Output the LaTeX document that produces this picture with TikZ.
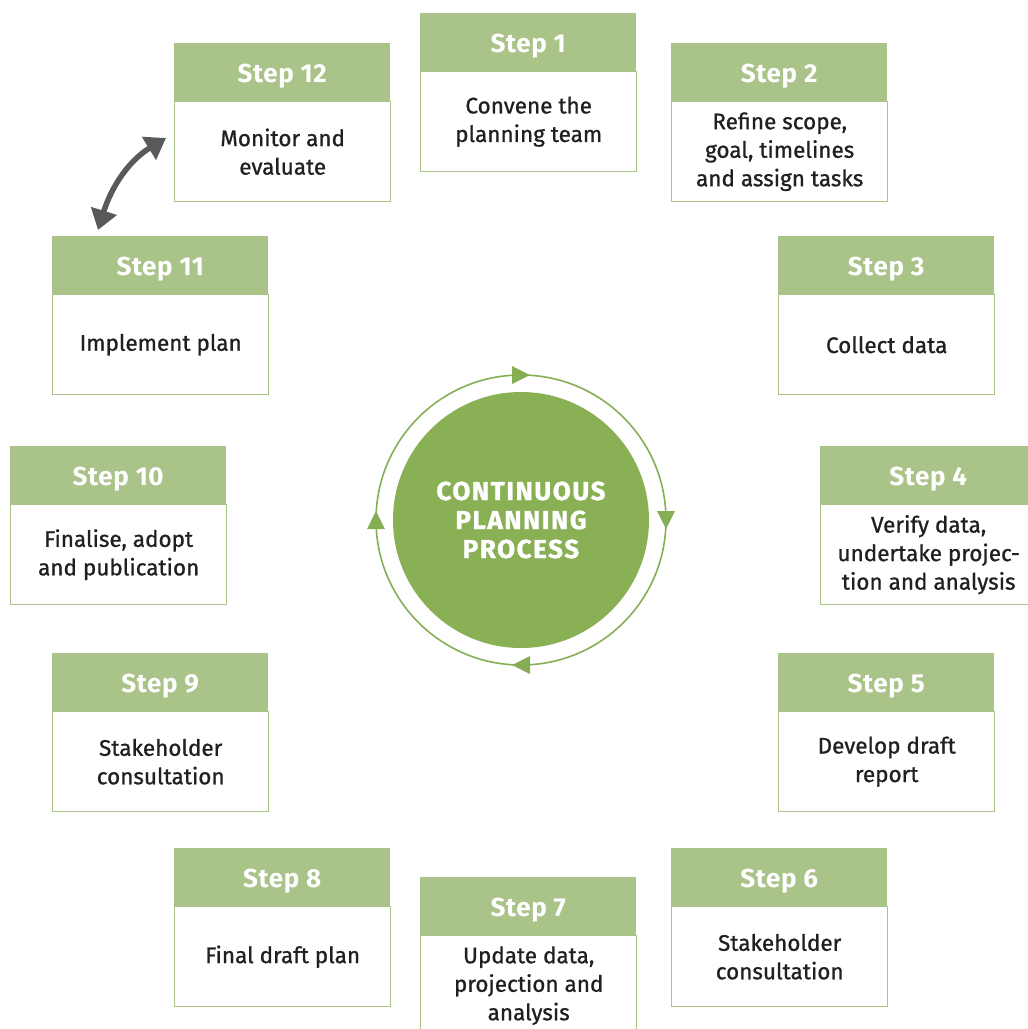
\documentclass[tikz,border=0pt]{standalone}
\usepackage{fontspec}
\setmainfont{Fira Sans}
\newfontfamily\cardfont{Fira Sans}[FakeBold=0.9]
\newfontfamily\headfont{Fira Sans}[LetterSpace=2.5]
\newfontfamily\corefont{Fira Sans}[LetterSpace=6.0, FakeBold=1.2]
\usetikzlibrary{arrows.meta}
\definecolor{headgreen}{HTML}{A9C388}
\definecolor{edgegreen}{HTML}{A9C388}
\definecolor{coregreen}{HTML}{8AB056}
\definecolor{ringgreen}{HTML}{86AE55}
\definecolor{bodytext}{HTML}{231F20}
\definecolor{arrowgrey}{HTML}{58595B}
\tikzset{
  headbox/.style={fill=headgreen, minimum width=216pt, minimum height=58pt,
    inner sep=0pt, anchor=north west, text=white, text depth=0pt,
    font=\headfont\fontsize{26}{27}\selectfont\bfseries},
  bodybox/.style={draw=edgegreen, line width=1.4pt, fill=white, minimum width=216pt,
    minimum height=100pt, inner sep=0pt, anchor=north west, text=bodytext, align=center,
    font=\cardfont\fontsize{22.5}{28.5}\selectfont},
  ringtip/.style={fill=ringgreen},
}
% one step card: header strip plus text body
\newcommand{\stepcard}[5]{%
  \node[bodybox] (#1b) at (#2,#3+58) {#5};
  \node[headbox] (#1h) at (#2,#3) {\raisebox{-1.5pt}{#4}};
}
\begin{document}
\begin{tikzpicture}[x=1pt,y=-1pt]
\useasboundingbox (0,0) rectangle (1028,1029);

\stepcard{s1}{420}{13}{Step 1}{Convene the\\planning team}
\stepcard{s2}{671}{43}{Step 2}{Refine scope,\\goal, timelines\\and assign tasks}
\stepcard{s3}{778}{236}{Step 3}{Collect data}
\stepcard{s4}{820}{446}{Step 4}{Verify data,\\undertake projec-\\tion and analysis}
\stepcard{s5}{778}{653}{Step 5}{Develop draft\\report}
\stepcard{s6}{671}{848}{Step 6}{Stakeholder\\consultation}
\stepcard{s7}{420}{877}{Step 7}{Update data,\\projection and\\analysis}
\stepcard{s8}{174}{848}{Step 8}{Final draft plan}
\stepcard{s9}{52}{653}{Step 9}{Stakeholder\\consultation}
\stepcard{s10}{10}{446}{Step 10}{Finalise, adopt\\and publication}
\stepcard{s11}{52}{236}{Step 11}{Implement plan}
\stepcard{s12}{174}{43}{Step 12}{Monitor and\\evaluate}

% central disc and the cycle ring around it
\node[circle, fill=coregreen, minimum size=256pt, inner sep=0pt, text=white, align=center,
  font=\corefont\fontsize{26}{29}\selectfont\bfseries] (core) at (521,520)
  {CONTINUOUS\\PLANNING\\PROCESS};
\draw[ringgreen, line width=1.6pt] (core.center) circle[radius=145pt];
\fill[ringtip] (512,366) -- (530,375) -- (512,384) -- cycle;
\fill[ringtip] (657,511) -- (666,529) -- (675,511) -- cycle;
\fill[ringtip] (530,656) -- (512,665) -- (530,674) -- cycle;
\fill[ringtip] (367,529) -- (376,511) -- (385,529) -- cycle;

% feedback between implementing and monitoring
\coordinate (fbA) at (98,230);
\coordinate (fbB) at (166,138);
\draw[arrowgrey, line width=5.5pt,
  {Triangle[width=26pt,length=20pt]}-{Triangle[width=26pt,length=20pt]}]
  (fbA) .. controls (112,185) and (130,160) .. (fbB);
\end{tikzpicture}
\end{document}
